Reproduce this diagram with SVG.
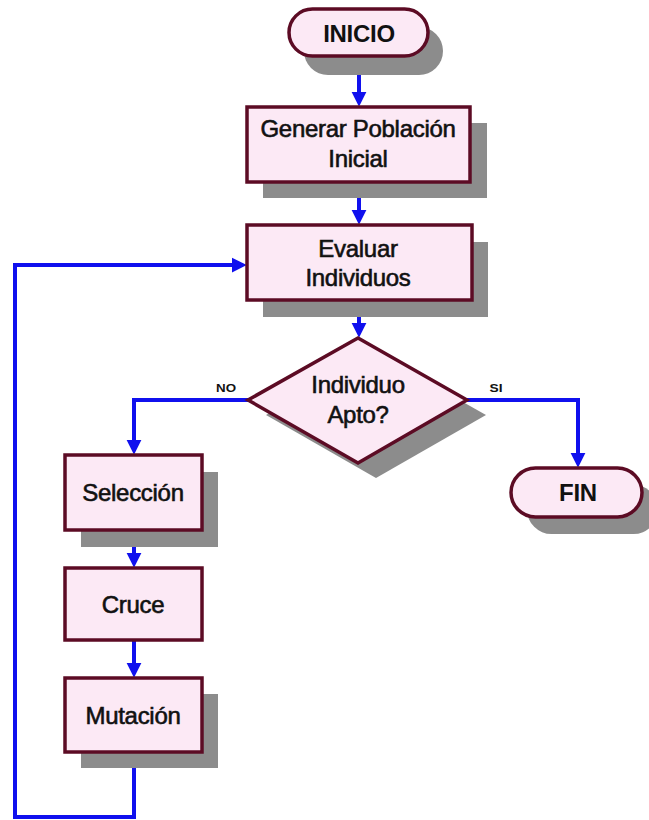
<svg xmlns="http://www.w3.org/2000/svg" width="649" height="820" viewBox="0 0 649 820">
  <defs>
    <style>
      .shape { fill: #fce9f5; stroke: #5c0b24; stroke-width: 3.5; }
      .shadow { fill: #8c8c8c; stroke: none; }
      .label { font-family: "Liberation Sans", Arial, sans-serif; font-size: 24px; fill: #111111; stroke: #111111; stroke-width: 0.6; text-anchor: middle; letter-spacing: -0.3px; }
      .term { font-weight: bold; stroke-width: 0; }
      .edge { fill: none; stroke: #1010ee; stroke-width: 4; stroke-linejoin: miter; }
      .tag { font-family: "Liberation Sans", Arial, sans-serif; font-size: 11px; font-weight: bold; fill: #111111; }
    </style>
    <marker id="arrow" viewBox="0 0 16 16" markerUnits="userSpaceOnUse" markerWidth="15" markerHeight="16" refX="12" refY="8" orient="auto">
      <path d="M0,0 L16,8 L0,16 z" fill="#1010ee"/>
    </marker>
  </defs>
  <rect width="649" height="820" fill="#ffffff"/>

  <!-- connectors -->
  <g id="connectors">
    <path class="edge" d="M359,56 V103" marker-end="url(#arrow)"/>
    <path class="edge" d="M359,182 V221" marker-end="url(#arrow)"/>
    <path class="edge" d="M359,300 V334" marker-end="url(#arrow)"/>
    <path class="edge" d="M248,400 H134 V451" marker-end="url(#arrow)"/>
    <path class="edge" d="M467,400 H578 V464" marker-end="url(#arrow)"/>
    <path class="edge" d="M134,530 V564" marker-end="url(#arrow)"/>
    <path class="edge" d="M134,640 V674" marker-end="url(#arrow)"/>
    <path class="edge" d="M134,752 V817 H15 V265 H243" marker-end="url(#arrow)"/>
    <text class="tag" x="226" y="392" text-anchor="middle" textLength="20" lengthAdjust="spacingAndGlyphs">NO</text>
    <text class="tag" x="496" y="392" text-anchor="middle" textLength="13" lengthAdjust="spacingAndGlyphs">SI</text>
  </g>

  <!-- start terminal -->
  <g id="inicio">
    <rect class="shadow" x="304" y="27" width="139" height="48" rx="24"/>
    <rect class="shape" x="289" y="9" width="139" height="47" rx="23.5"/>
    <text class="label term" x="359" y="42">INICIO</text>
  </g>

  <g id="generar">
    <rect class="shadow" x="263" y="123" width="224" height="75"/>
    <rect class="shape" x="247" y="107" width="223" height="75"/>
    <text class="label" x="358" y="137">Generar Población</text>
    <text class="label" x="358" y="167">Inicial</text>
  </g>

  <g id="evaluar">
    <rect class="shadow" x="263" y="242" width="225" height="75"/>
    <rect class="shape" x="247" y="225" width="225" height="75"/>
    <text class="label" x="358" y="257">Evaluar</text>
    <text class="label" x="358" y="286">Individuos</text>
  </g>

  <!-- decision -->
  <g id="apto">
    <polygon class="shadow" points="376,353 486,415 376,478 266,415"/>
    <polygon class="shape" points="358,338 467,400 358,463 248,400"/>
    <text class="label" x="358" y="393">Individuo</text>
    <text class="label" x="358" y="423">Apto?</text>
  </g>

  <g id="fin">
    <rect class="shadow" x="527" y="485" width="131" height="49" rx="24.5"/>
    <rect class="shape" x="511" y="468" width="131" height="49" rx="24.5"/>
    <text class="label term" x="578" y="501">FIN</text>
  </g>

  <g id="seleccion">
    <rect class="shadow" x="81" y="472" width="137" height="75"/>
    <rect class="shape" x="65" y="455" width="137" height="75"/>
    <text class="label" x="133" y="501">Selección</text>
  </g>

  <g id="cruce">
    <rect class="shape" x="65" y="568" width="137" height="72"/>
    <text class="label" x="133" y="613">Cruce</text>
  </g>

  <g id="mutacion">
    <rect class="shadow" x="81" y="694" width="137" height="74"/>
    <rect class="shape" x="65" y="678" width="137" height="74"/>
    <text class="label" x="133" y="724">Mutación</text>
  </g>
</svg>
